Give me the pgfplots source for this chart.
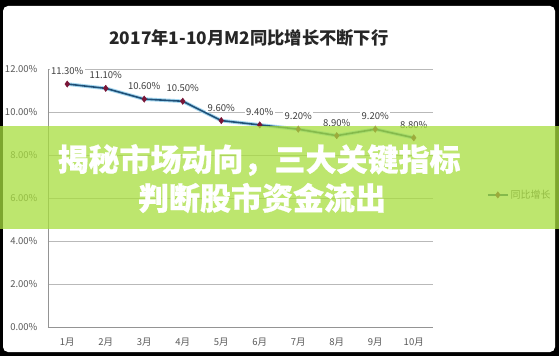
\documentclass[border=0pt]{standalone}
\usepackage{pgfplots}
\pgfplotsset{compat=1.18}
\usepackage{fontspec}
\setmainfont{Noto Sans CJK SC}
\newfontfamily\heavy[BoldFeatures={FakeBold=0.8}]{Noto Sans CJK SC}
\definecolor{lineblue}{RGB}{31,80,120}
\definecolor{glow}{RGB}{165,215,240}
\definecolor{markred}{RGB}{122,22,55}
\definecolor{bannergreen}{RGB}{168,222,62}
\definecolor{ticktext}{RGB}{89,89,89}
\definecolor{gridgray}{RGB}{185,185,185}
\begin{document}
\begin{tikzpicture}[x=1pt,y=1pt]
\fill[black] (0,0) rectangle (559,356);
\fill[white, rounded corners=5pt] (3,4) rectangle (555,350);
\node[font=\bfseries\fontsize{17.3}{20}\selectfont, text=black!85] at (249,318) {2017年1-10月M2同比增长不断下行};
\begin{axis}[
  at={(48pt,29pt)}, anchor=south west,
  scale only axis, width=385pt, height=258pt,
  xmin=0.5, xmax=10.5, ymin=0, ymax=12,
  xtick={1,...,10},
  xticklabels={1月,2月,3月,4月,5月,6月,7月,8月,9月,10月},
  ytick={0,2,4,6,8,10,12},
  yticklabels={0.00\%,2.00\%,4.00\%,6.00\%,8.00\%,10.00\%,12.00\%},
  /pgf/number format/assume math mode=true,
  ymajorgrids, grid style={gridgray, line width=0.8pt},
  axis x line*=bottom, axis y line*=left,
  axis line style={-, gridgray!80!black, line width=0.8pt},
  major tick length=0pt,
  tick label style={font=\fontsize{9.5}{11}\selectfont, text=ticktext},
  yticklabel style={xshift=-7pt},
  xticklabel style={yshift=-7pt},
  legend style={at={(1.132,0.512)}, anchor=west, draw=none, fill=none,
    font=\fontsize{10}{12}\selectfont, text=ticktext},
  legend cell align=left,
  legend image code/.code={\draw[#1] (0pt,0pt) -- (20pt,0pt); \draw[#1, only marks] plot coordinates {(10pt,0pt)};},
]
\addplot[forget plot, color=glow, line width=3.6pt, no markers] coordinates {
(1,11.3) (2,11.1) (3,10.6) (4,10.5) (5,9.6) (6,9.4) (7,9.2) (8,8.9) (9,9.2) (10,8.8)};
\addplot[color=lineblue, line width=1.6pt, mark=diamond*, mark size=3.2pt,
  mark options={fill=markred, draw=markred, line width=0.4pt},
  point meta=y,
  nodes near coords={\pgfmathprintnumber[fixed,fixed zerofill,precision=2]{\pgfplotspointmeta}\%},
  every node near coord/.append style={anchor=center, yshift=13pt, fill=white,
    inner sep=1.2pt, font=\fontsize{9.5}{11}\selectfont, text=black!75}
] coordinates {
(1,11.3) (2,11.1) (3,10.6) (4,10.5) (5,9.6) (6,9.4) (7,9.2) (8,8.9) (9,9.2) (10,8.8)};
\addlegendentry{同比增长}
\end{axis}
\fill[bannergreen, opacity=0.75] (0,127) rectangle (559,230);
\node[text=white, font=\heavy\bfseries\fontsize{31}{31}\selectfont, inner sep=0pt] at (259,196) {揭秘市场动向，三大关键指标};
\node[text=white, font=\heavy\bfseries\fontsize{31}{31}\selectfont, inner sep=0pt] at (262,158) {判断股市资金流出};
\end{tikzpicture}
\end{document}
